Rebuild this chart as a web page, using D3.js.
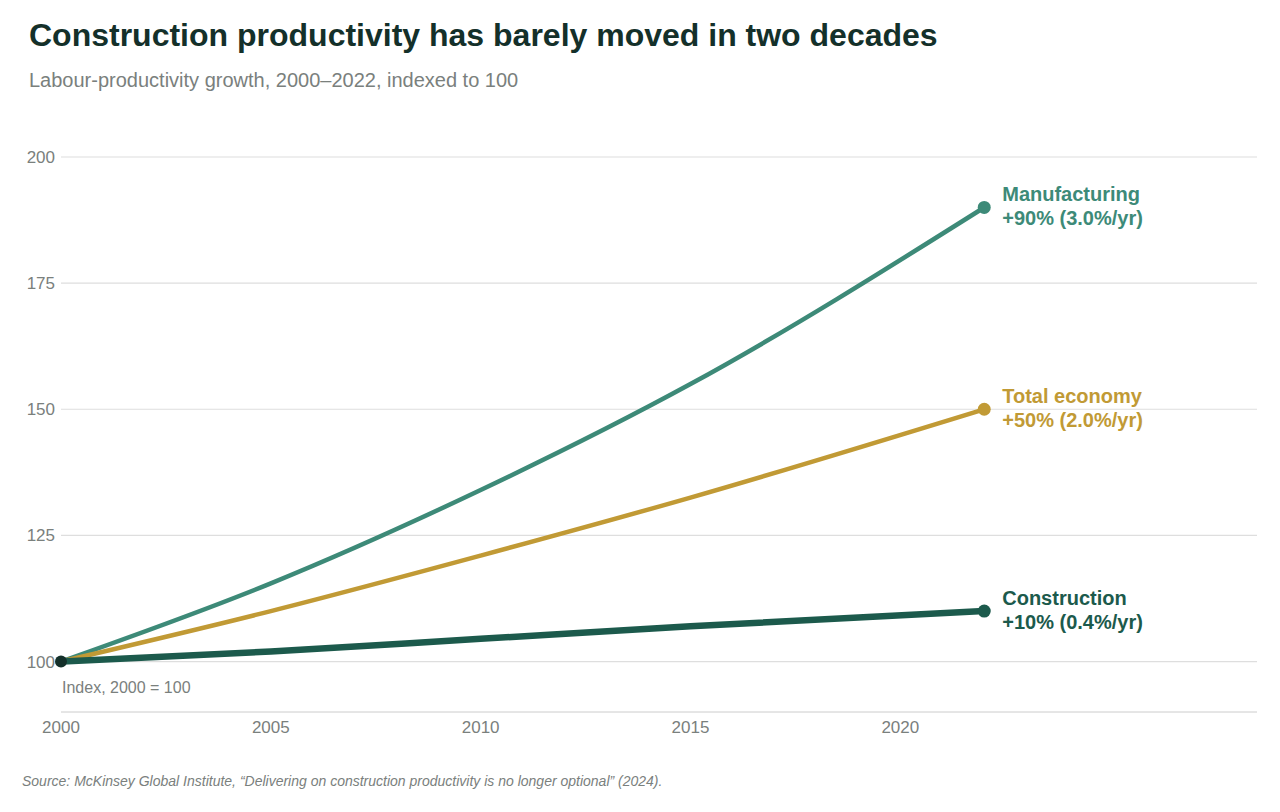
<!DOCTYPE html>
<html><head><meta charset="utf-8">
<script src="https://cdn.jsdelivr.net/npm/d3@7"></script>
<style>body{margin:0;background:#fff;font-family:"Liberation Sans",Arial,sans-serif}</style>
</head><body><svg id="chart" width="1280" height="812"></svg>
<script>
const years = [2000, 2005, 2010, 2015, 2022];
const manufacturing = [100, 115.5, 134, 155, 190];
const totalEconomy = [100, 110, 121, 132.5, 150];
const construction = [100, 102, 104.5, 107, 110];
const yTicks = [100, 125, 150, 175, 200];
const xTicks = [2000, 2005, 2010, 2015, 2020];

const series = [
  {name: "Manufacturing", note: "+90%  (3.0%/yr)", values: manufacturing, color: "#3d8a78", width: 4.5},
  {name: "Total economy", note: "+50%  (2.0%/yr)", values: totalEconomy, color: "#c19a35", width: 4.5},
  {name: "Construction", note: "+10%  (0.4%/yr)", values: construction, color: "#1c5a4c", width: 6.5}
];

const svg = d3.select("#chart");
const x = d3.scaleLinear().domain([2000, 2028.5]).range([61, 1257]);
const y = d3.scaleLinear().domain([90, 200]).range([712, 157]);

svg.append("text").attr("x", 29).attr("y", 46).attr("font-size", 32).attr("font-weight", "bold")
  .attr("fill", "#14302a").text("Construction productivity has barely moved in two decades");
svg.append("text").attr("x", 29).attr("y", 87).attr("font-size", 20).attr("fill", "#7a807d")
  .text("Labour-productivity growth, 2000–2022, indexed to 100");

svg.selectAll(".grid").data(yTicks).join("line")
  .attr("x1", 61).attr("x2", 1257).attr("y1", d => y(d)).attr("y2", d => y(d))
  .attr("stroke", "#dedede").attr("stroke-width", 1.2);
svg.selectAll(".yl").data(yTicks).join("text")
  .attr("x", 55).attr("y", d => y(d) + 6).attr("text-anchor", "end")
  .attr("font-size", 17).attr("fill", "#7a807d").text(d => d);

svg.append("line").attr("x1", 61).attr("x2", 1257).attr("y1", 712).attr("y2", 712).attr("stroke", "#ccc");
svg.selectAll(".xl").data(xTicks).join("text")
  .attr("x", d => x(d)).attr("y", 733).attr("text-anchor", "middle")
  .attr("font-size", 17).attr("fill", "#7a807d").text(d => d);

svg.append("text").attr("x", 62).attr("y", 693).attr("font-size", 16).attr("fill", "#7a807d").text("Index, 2000 = 100");

const line = d3.line().x((d, i) => x(years[i])).y(d => y(d)).curve(d3.curveMonotoneX);
series.forEach(s => {
  svg.append("path").attr("d", line(s.values)).attr("fill", "none")
    .attr("stroke", s.color).attr("stroke-width", s.width).attr("stroke-linecap", "round");
  const last = s.values[s.values.length - 1];
  svg.append("circle").attr("cx", x(2022)).attr("cy", y(last)).attr("r", 6.5).attr("fill", s.color);
  const t = svg.append("text").attr("x", x(2022) + 18).attr("y", y(last) - 6)
    .attr("font-size", 20).attr("font-weight", "bold").attr("fill", s.color);
  t.append("tspan").text(s.name);
  t.append("tspan").attr("x", x(2022) + 18).attr("dy", 24).text(s.note);
});
svg.append("circle").attr("cx", x(2000)).attr("cy", y(100)).attr("r", 6).attr("fill", "#14302a");

svg.append("text").attr("x", 22).attr("y", 786).attr("font-size", 14).attr("font-style", "italic")
  .attr("fill", "#7a807d")
  .text("Source: McKinsey Global Institute, “Delivering on construction productivity is no longer optional” (2024).");
</script></body></html>
